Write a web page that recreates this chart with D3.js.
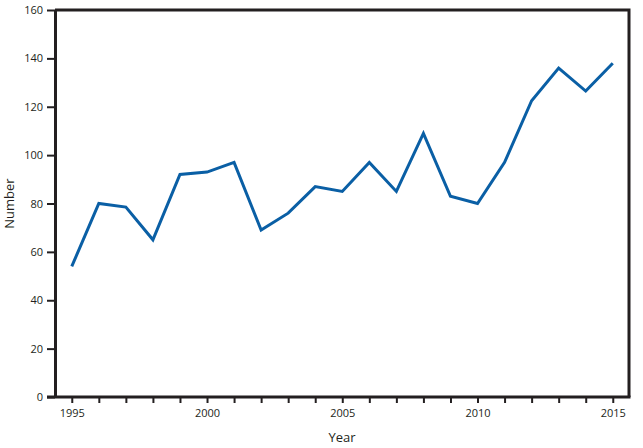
<!DOCTYPE html>
<html>
<head>
<meta charset="utf-8">
<script src="https://cdn.jsdelivr.net/npm/d3@7"></script>
<style>
  body { margin: 0; background: #fff; }
  text { font-family: "Open Sans", sans-serif; fill: #231f20; }
</style>
</head>
<body>
<div id="chart"></div>
<script>
/* DATA */
const years = [1995, 1996, 1997, 1998, 1999, 2000, 2001, 2002, 2003, 2004, 2005,
  2006, 2007, 2008, 2009, 2010, 2011, 2012, 2013, 2014, 2015];
const counts = [54, 80, 78.5, 65, 92, 93, 97, 69, 76, 87, 85,
  97, 85, 109, 83, 80, 97, 122.5, 136, 126.5, 138];
const yTicks = [0, 20, 40, 60, 80, 100, 120, 140, 160];
const xLabels = [1995, 2000, 2005, 2010, 2015];

/* CONSTANTS */
const width = 643,
  height = 448,
  margin = { top: 10, bottom: 51, left: 55, right: 14 };

const svg = d3.select("#chart")
  .append("svg")
  .attr("width", width)
  .attr("height", height);

// scales
const xScale = d3.scaleLinear()
  .domain([1994.38, 2015.6])
  .range([margin.left, width - margin.right]);

const yScale = d3.scaleLinear()
  .domain([0, 160])
  .range([height - margin.bottom, margin.top]);

const frameColor = "#231f20";

// frame (top + right)
svg.append("path")
  .attr("d", `M${margin.left},${margin.top}H${width - margin.right}V${height - margin.bottom}`)
  .attr("fill", "none")
  .attr("stroke", frameColor)
  .attr("stroke-width", 3);

// y axis
const yAxis = svg.append("g")
  .attr("transform", `translate(${margin.left},0)`)
  .call(d3.axisLeft(yScale).tickValues(yTicks).tickSize(8).tickPadding(4).tickSizeOuter(0));

yAxis.select(".domain").attr("stroke", frameColor).attr("stroke-width", 3);
yAxis.selectAll(".tick line").attr("stroke", frameColor).attr("stroke-width", 2);
yAxis.selectAll(".tick text").style("font-size", "11px").attr("fill", frameColor);

// x axis
const xAxis = svg.append("g")
  .attr("transform", `translate(0,${height - margin.bottom})`)
  .call(d3.axisBottom(xScale).tickValues(years).tickSize(6).tickPadding(6).tickSizeOuter(0)
    .tickFormat(d => xLabels.includes(d) ? d : ""));

xAxis.select(".domain")
  .attr("d", `M${margin.left - 8},0H${width - margin.right + 1.5}`)
  .attr("stroke", frameColor).attr("stroke-width", 3);
xAxis.selectAll(".tick line").attr("stroke", frameColor).attr("stroke-width", 2);
xAxis.selectAll(".tick text").style("font-size", "11px").attr("fill", frameColor);

// axis titles
svg.append("text")
  .attr("x", (margin.left + width - margin.right) / 2)
  .attr("y", 442)
  .attr("text-anchor", "middle")
  .style("font-size", "13px")
  .text("Year");

svg.append("text")
  .attr("transform", `translate(14,${(margin.top + height - margin.bottom) / 2}) rotate(-90)`)
  .attr("text-anchor", "middle")
  .style("font-size", "13px")
  .text("Number");

// line
const data = years.map((y, i) => ({ year: y, count: counts[i] }));

const lineFunction = d3.line()
  .x(d => xScale(d.year))
  .y(d => yScale(d.count));

svg.append("path")
  .datum(data)
  .attr("fill", "none")
  .attr("stroke", "#0a5fa5")
  .attr("stroke-width", 3)
  .attr("stroke-linejoin", "miter")
  .attr("d", lineFunction);
</script>
</body>
</html>
